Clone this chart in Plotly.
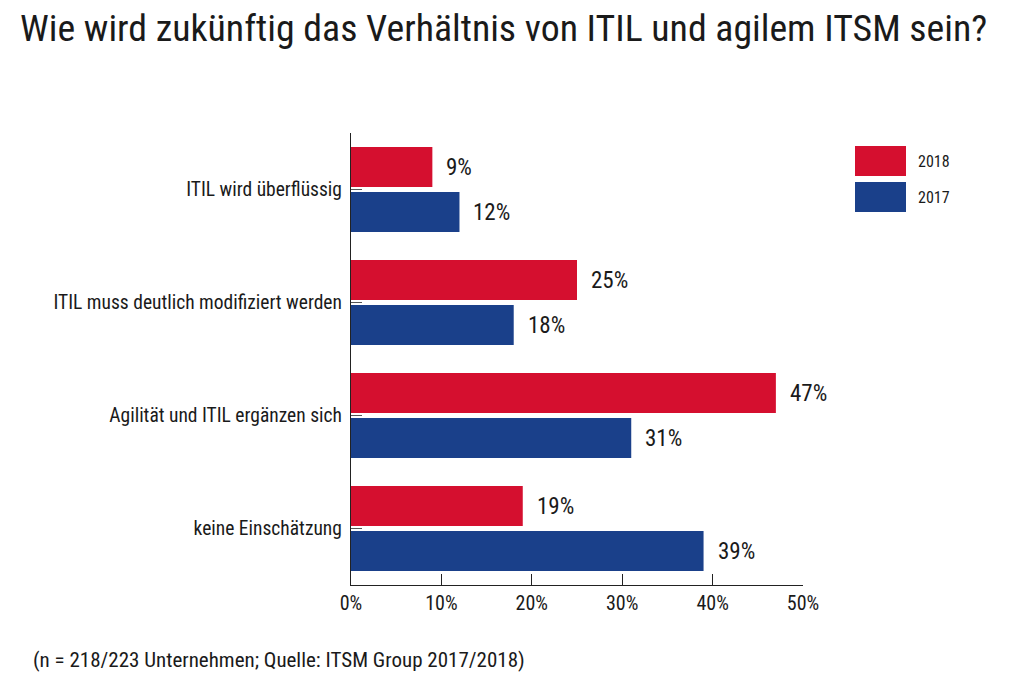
import plotly.graph_objects as go

categories = ["ITIL wird überflüssig", "ITIL muss deutlich modifiziert werden",
              "Agilität und ITIL ergänzen sich", "keine Einschätzung"]
series_names = ["2018", "2017"]
values_2018 = [9, 25, 47, 19]
values_2017 = [12, 18, 31, 39]
colors = ["#D50F2F", "#1A408A"]
x_ticks = [0, 10, 20, 30, 40, 50]
x_tick_labels = ["0%", "10%", "20%", "30%", "40%", "50%"]

FONT = "Liberation Sans Narrow, Arial Narrow, Roboto Condensed, Liberation Sans, sans-serif"

W, H = 1024, 680
ML, MR, MT, MB = 351, 221, 133, 95
PW, PH = W - ML - MR, H - MT - MB


def px_x(x):
    return (x - ML) / PW


def px_y(y):
    return (H - MB - y) / PH


fig = go.Figure()
for name, vals, col in zip(series_names, [values_2018, values_2017], colors):
    fig.add_trace(go.Bar(
        y=categories, x=vals, name=name, orientation="h",
        marker=dict(color=col, line=dict(width=0)),
        showlegend=False, hoverinfo="skip",
    ))

annotations = []
for i, vals in enumerate([values_2018, values_2017]):
    for c, v in zip(categories, vals):
        annotations.append(dict(
            x=v, y=c, xref="x", yref="y", text=f"{v}%",
            showarrow=False, xanchor="left", xshift=12,
            yshift=22.5 if i == 0 else -22.5,
            font=dict(family=FONT, size=23, color="#1a1a1a"),
        ))

# custom legend boxes
shapes = []
for name, col, (t, b) in zip(series_names, colors, [(146, 176), (182, 212)]):
    shapes.append(dict(type="rect", xref="paper", yref="paper",
                       x0=px_x(855), x1=px_x(906), y0=px_y(b), y1=px_y(t),
                       fillcolor=col, line=dict(width=0)))
    annotations.append(dict(
        xref="paper", yref="paper", x=px_x(916), y=px_y((t + b) / 2),
        text=name, showarrow=False, xanchor="left", yanchor="middle",
        font=dict(family=FONT, size=16, color="#1a1a1a"),
    ))

annotations.append(dict(
    xref="paper", yref="paper", x=px_x(31), y=px_y(660),
    text="(n = 218/223 Unternehmen; Quelle: ITSM Group 2017/2018)",
    showarrow=False, xanchor="left", yanchor="middle",
    font=dict(family=FONT, size=21, color="#1a1a1a"),
))

fig.update_layout(
    width=W, height=H,
    margin=dict(l=ML, r=MR, t=MT, b=MB),
    paper_bgcolor="white", plot_bgcolor="white",
    barmode="group", bargap=0.204, bargroupgap=0.111,
    title=dict(text="Wie wird zukünftig das Verhältnis von ITIL und agilem ITSM sein?",
               x=20 / W, xanchor="left", y=1 - 28 / H, yanchor="middle",
               font=dict(family=FONT, size=37.8, color="#1a1a1a")),
    font=dict(family=FONT, color="#1a1a1a"),
    xaxis=dict(range=[0, 50], tickvals=x_ticks, ticktext=x_tick_labels,
               showgrid=False, zeroline=False, showline=True,
               linecolor="#222222", linewidth=1.3,
               ticks="inside", ticklen=11, tickcolor="#222222", tickwidth=1.3,
               tickfont=dict(family=FONT, size=20, color="#1a1a1a")),
    yaxis=dict(autorange="reversed", showgrid=False, zeroline=False,
               showline=True, linecolor="#222222", linewidth=1.3,
               ticks="inside", ticklen=11, tickcolor="#555555", tickwidth=1,
               ticklabelstandoff=4,
               tickfont=dict(family=FONT, size=19.5, color="#1a1a1a")),
    shapes=shapes, annotations=annotations,
)

fig.write_html("out.html", config={"displayModeBar": False},
               post_script="document.body.style.margin='0';")
